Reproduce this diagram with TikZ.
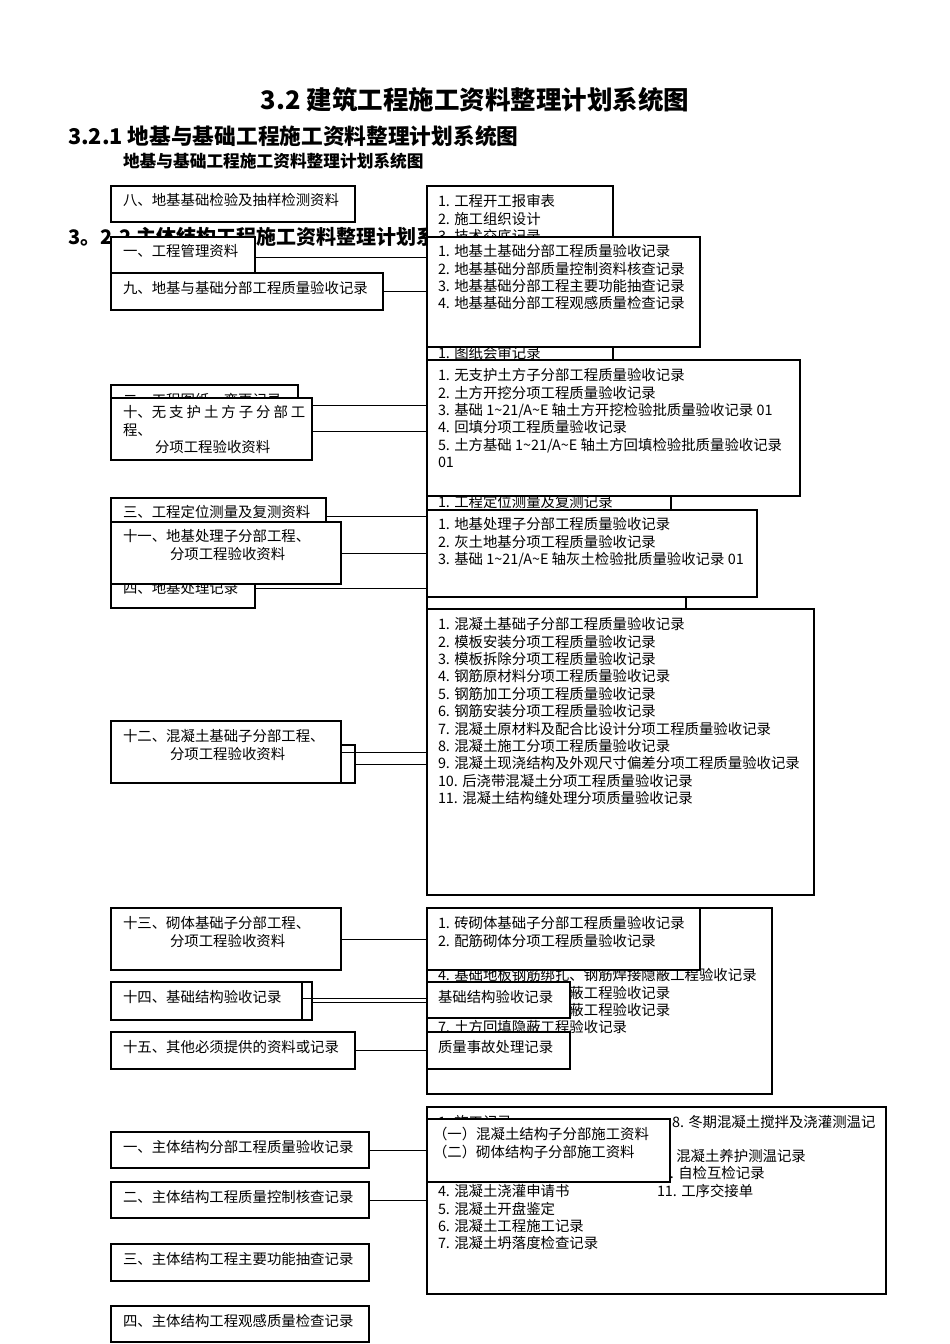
\documentclass[tikz,border=0pt]{standalone}
\usepackage{fontspec}
\setmainfont{Noto Sans CJK SC}
\usetikzlibrary{calc}
\newcommand{\bodyfs}{\fontsize{14.4pt}{17.4pt}\selectfont}
\newcommand{\gapsp}{\hspace{3pt}}
\newcommand{\tld}{\textasciitilde}
\begin{document}
\begin{tikzpicture}[x=1pt,y=-1pt,
 box/.style={draw=black,line width=1.1pt,fill=white,anchor=north west,inner sep=0pt,outer sep=0pt},
 txt/.style={anchor=north west,inner sep=0pt,outer sep=0pt,align=left,font=\bodyfs},
 conn/.style={draw=black,line width=1pt},
 ttl/.style={anchor=west,inner sep=0pt,outer sep=0pt}]
\useasboundingbox[fill=white] (0,0) rectangle (950,1344);

% titles
\node[anchor=center,inner sep=0pt,font=\fontsize{25.5pt}{30pt}\bfseries] (T1) at (475,100) {3.2 建筑工程施工资料整理计划系统图};
\node[ttl,font=\fontsize{21.7pt}{26pt}\bfseries] (T2) at (68,136) {3.2.1 地基与基础工程施工资料整理计划系统图};
\node[ttl,font=\fontsize{16.7pt}{20pt}\bfseries] (T3) at (123,161) {地基与基础工程施工资料整理计划系统图};
\node[ttl,font=\fontsize{20pt}{24pt}\bfseries] (T4) at (68,237) {3。2.2 主体结构工程施工资料整理计划系统图};

% ---------- back (partly hidden) boxes ----------
\node[box,minimum width=187pt,minimum height=40pt] (L2) at (111,385) {};
\node[txt] (L2t) at (123,393.5) {二、工程图纸、变更记录};
\node[box,minimum width=215pt,minimum height=36pt] (L3) at (111,498) {};
\node[txt] (L3t) at (123,505.5) {三、工程定位测量及复测资料};
\node[box,minimum width=144pt,minimum height=40pt] (L4) at (111,568) {};
\node[txt] (L4t) at (123,581.5) {四、地基处理记录};
\node[box,minimum width=244pt,minimum height=38pt] (L12b) at (111,745) {};
\node[box,minimum width=201pt,minimum height=38pt] (L14b) at (111,982) {};

\node[box,minimum width=186pt,minimum height=184pt] (RA) at (427,186) {};
\node[txt] (RAt) at (438,194.5) {1. 工程开工报审表\\2. 施工组织设计\\3. 技术交底记录};
\node[txt] (RAt2) at (438,346.5) {1. 图纸会审记录};
\node[box,minimum width=244pt,minimum height=40pt] (RT) at (427,485) {};
\node[txt] (RTt) at (438,495.5) {1. 工程定位测量及复测记录};
\node[box,minimum width=259pt,minimum height=40pt] (RX) at (427,580) {};
\node[box,minimum width=345pt,minimum height=186pt] (RF) at (427,908) {};
\node[txt] (RFt) at (438,968.5) {4. 基础地板钢筋绑扎、钢筋焊接隐蔽工程验收记录\\5. 基础梁钢筋绑扎隐蔽工程验收记录\\6. 基础柱钢筋绑扎隐蔽工程验收记录\\7. 土方回填隐蔽工程验收记录};
\node[box,minimum width=459pt,minimum height=187pt] (RJ) at (427,1107) {};
\node[txt] (RJt1) at (438,1115) {1. 施工记录};
\node[txt] (RJt2) at (438,1184.5) {4. 混凝土浇灌申请书\\5. 混凝土开盘鉴定\\6. 混凝土工程施工记录\\7. 混凝土坍落度检查记录};
\node[txt] (RJt3) at (672,1115.5) {8. 冬期混凝土搅拌及浇灌测温记};
\node[txt] (RJt4) at (660,1149.5) {9. 混凝土养护测温记录};
\node[txt] (RJt5) at (654,1166.5) {10. 自检互检记录};
\node[txt] (RJt6) at (657,1184.5) {11. 工序交接单};

% ---------- front box frames (named for connectors) ----------
\node[box,minimum width=144pt,minimum height=36pt,draw=none,fill=none] (L1) at (111,237) {};
\node[box,minimum width=272pt,minimum height=37pt,draw=none,fill=none] (L9) at (111,273) {};
\node[box,minimum width=201pt,minimum height=62pt,draw=none,fill=none] (L10) at (111,398) {};
\node[box,minimum width=230pt,minimum height=62pt,draw=none,fill=none] (L11) at (111,522) {};
\node[box,minimum width=230pt,minimum height=62pt,draw=none,fill=none] (L12) at (111,721) {};
\node[box,minimum width=230pt,minimum height=62pt,draw=none,fill=none] (L13) at (111,908) {};
\node[box,minimum width=191pt,minimum height=38pt,draw=none,fill=none] (L14) at (111,982) {};
\node[box,minimum width=244pt,minimum height=37pt,draw=none,fill=none] (L15) at (111,1032) {};
\node[box,minimum width=258pt,minimum height=36pt,draw=none,fill=none] (M1) at (111,1132) {};
\node[box,minimum width=258pt,minimum height=36pt,draw=none,fill=none] (M2) at (111,1182) {};
\node[box,minimum width=273pt,minimum height=110pt,draw=none,fill=none] (RB) at (427,237) {};
\node[box,minimum width=373pt,minimum height=136pt,draw=none,fill=none] (RC) at (427,360) {};
\node[box,minimum width=330pt,minimum height=87pt,draw=none,fill=none] (RD) at (427,510) {};
\node[box,minimum width=387pt,minimum height=286pt,draw=none,fill=none] (RE) at (427,609) {};
\node[box,minimum width=273pt,minimum height=62pt,draw=none,fill=none] (RG) at (427,908) {};
\node[box,minimum width=143pt,minimum height=36pt,draw=none,fill=none] (RH) at (427,982) {};
\node[box,minimum width=143pt,minimum height=37pt,draw=none,fill=none] (RI) at (427,1032) {};

% ---------- connectors ----------
\draw[conn] ($(L1.east)+(0,2)$) -- ($(L1.east -| RB.west)+(0,2)$);
\draw[conn] (L9.east) -- (L9.east -| RB.west);
\draw[conn] (L2.east) -- (L2.east -| RC.west);
\draw[conn] ($(L10.east)+(0,2)$) -- ($(L10.east -| RC.west)+(0,2)$);
\draw[conn] (L3.east) -- (L3.east -| RD.west);
\draw[conn] (L11.east) -- (L11.east -| RD.west);
\draw[conn] (L4.east) -- (L4.east -| RD.west);
\draw[conn] (L12.east) -- (L12.east -| RE.west);
\draw[conn] (L12b.east) -- (L12b.east -| RE.west);
\draw[conn] (L13.east) -- (L13.east -| RG.west);
\draw[conn] ($(L14.east)+(0,-3)$) -- ($(L14.east -| RH.west)+(0,-3)$);
\draw[conn] ($(L14b.east)+(0,1)$) -- ($(L14b.east -| RH.west)+(0,1)$);
\draw[conn] (L15.east) -- (L15.east -| RI.west);
\draw[conn] (M1.east) -- (M1.east -| RJ.west);
\draw[conn] (M2.east) -- (M2.east -| RJ.west);

% ---------- front boxes ----------
\node[box,minimum width=244pt,minimum height=36pt] (L8) at (111,186) {};
\node[txt] (L8t) at (123,193.5) {八、地基基础检验及抽样检测资料};
\node[box,minimum width=144pt,minimum height=36pt] (L1f) at (L1.north west) {};
\node[txt] (L1t) at (123,244.5) {一、工程管理资料};
\node[box,minimum width=272pt,minimum height=37pt] (L9f) at (L9.north west) {};
\node[txt] (L9t) at (123,281.5) {九、地基与基础分部工程质量验收记录};
\node[box,minimum width=201pt,minimum height=62pt] (L10f) at (L10.north west) {};
\node[txt] (L10t) at (123,405.5) {十、无\gapsp 支\gapsp 护\gapsp 土\gapsp 方\gapsp 子\gapsp 分\gapsp 部\gapsp 工\\程、\\\hspace*{32pt}分项工程验收资料};
\node[box,minimum width=230pt,minimum height=62pt] (L11f) at (L11.north west) {};
\node[txt] (L11t) at (123,529.5) {十一、地基处理子分部工程、\\\hspace*{47pt}分项工程验收资料};
\node[box,minimum width=230pt,minimum height=62pt] (L12f) at (L12.north west) {};
\node[txt] (L12t) at (123,729.5) {十二、混凝土基础子分部工程、\\\hspace*{47pt}分项工程验收资料};
\node[box,minimum width=230pt,minimum height=62pt] (L13f) at (L13.north west) {};
\node[txt] (L13t) at (123,916.5) {十三、砌体基础子分部工程、\\\hspace*{47pt}分项工程验收资料};
\node[box,minimum width=191pt,minimum height=38pt] (L14f) at (L14.north west) {};
\node[txt] (L14t) at (123,990.5) {十四、基础结构验收记录};
\node[box,minimum width=244pt,minimum height=37pt] (L15f) at (L15.north west) {};
\node[txt] (L15t) at (123,1040.5) {十五、其他必须提供的资料或记录};
\node[box,minimum width=258pt,minimum height=36pt] (M1f) at (M1.north west) {};
\node[txt] (M1t) at (123,1140.5) {一、主体结构分部工程质量验收记录};
\node[box,minimum width=258pt,minimum height=36pt] (M2f) at (M2.north west) {};
\node[txt] (M2t) at (123,1190.5) {二、主体结构工程质量控制核查记录};
\node[box,minimum width=258pt,minimum height=37pt] (M3) at (111,1244) {};
\node[txt] (M3t) at (123,1252.5) {三、主体结构工程主要功能抽查记录};
\node[box,minimum width=258pt,minimum height=36pt] (M4) at (111,1306) {};
\node[txt] (M4t) at (123,1314.5) {四、主体结构工程观感质量检查记录};

\node[box,minimum width=273pt,minimum height=110pt] (RBf) at (RB.north west) {};
\node[txt] (RBt) at (438,244.5) {1. 地基土基础分部工程质量验收记录\\2. 地基基础分部质量控制资料核查记录\\3. 地基基础分部工程主要功能抽查记录\\4. 地基基础分部工程观感质量检查记录};
\node[box,minimum width=373pt,minimum height=136pt] (RCf) at (RC.north west) {};
\node[txt] (RCt) at (438,368.5) {1. 无支护土方子分部工程质量验收记录\\2. 土方开挖分项工程质量验收记录\\3. 基础 1\tld 21/A\tld E 轴土方开挖检验批质量验收记录 01\\4. 回填分项工程质量验收记录\\5. 土方基础 1\tld 21/A\tld E 轴土方回填检验批质量验收记录\\01};
\node[box,minimum width=330pt,minimum height=87pt] (RDf) at (RD.north west) {};
\node[txt] (RDt) at (438,517.5) {1. 地基处理子分部工程质量验收记录\\2. 灰土地基分项工程质量验收记录\\3. 基础 1\tld 21/A\tld E 轴灰土检验批质量验收记录 01};
\node[box,minimum width=387pt,minimum height=286pt] (REf) at (RE.north west) {};
\node[txt] (REt) at (438,617.5) {1. 混凝土基础子分部工程质量验收记录\\2. 模板安装分项工程质量验收记录\\3. 模板拆除分项工程质量验收记录\\4. 钢筋原材料分项工程质量验收记录\\5. 钢筋加工分项工程质量验收记录\\6. 钢筋安装分项工程质量验收记录\\7. 混凝土原材料及配合比设计分项工程质量验收记录\\8. 混凝土施工分项工程质量验收记录\\9. 混凝土现浇结构及外观尺寸偏差分项工程质量验收记录\\10. 后浇带混凝土分项工程质量验收记录\\11. 混凝土结构缝处理分项质量验收记录};
\node[box,minimum width=273pt,minimum height=62pt] (RGf) at (RG.north west) {};
\node[txt] (RGt) at (438,916.5) {1. 砖砌体基础子分部工程质量验收记录\\2. 配筋砌体分项工程质量验收记录};
\node[box,minimum width=143pt,minimum height=36pt] (RHf) at (RH.north west) {};
\node[txt] (RHt) at (438,990.5) {基础结构验收记录};
\node[box,minimum width=143pt,minimum height=37pt] (RIf) at (RI.north west) {};
\node[txt] (RIt) at (438,1040.5) {质量事故处理记录};
\node[box,minimum width=243pt,minimum height=63pt] (RK) at (427,1119) {};
\node[txt] (RKt) at (433,1127.5) {（一）混凝土结构子分部施工资料\\（二）砌体结构子分部施工资料};
\end{tikzpicture}
\end{document}
